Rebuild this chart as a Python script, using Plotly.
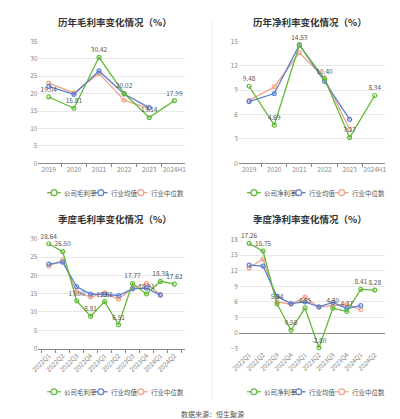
import plotly.graph_objects as go

years = ['2019', '2020', '2021', '2022', '2023', '2024H1']
quarters = ['2022Q1', '2022Q2', '2022Q3', '2022Q4', '2023Q1', '2023Q2',
            '2023Q3', '2023Q4', '2024Q1', '2024Q2']

# annual gross margin
gm_company = [19.04, 15.81, 30.42, 20.02, 13.14, 17.99]
gm_mean = [22.1, 19.8, 26.5, 19.9, 16.0]
gm_median = [23.0, 20.2, 25.8, 18.1, 15.8]

# annual net margin
nm_company = [9.48, 4.69, 14.53, 10.40, 3.17, 8.34]
nm_mean = [7.58, 8.58, 14.56, 10.07, 5.40]
nm_median = [7.74, 9.39, 13.60, 10.50, 4.17]

# quarterly gross margin
qgm_company = [28.64, 26.50, 13.00, 8.81, 12.82, 6.51, 17.77, 14.91, 18.38, 17.62]
qgm_mean = [23.1, 23.6, 16.9, 14.9, 14.8, 14.5, 16.3, 16.5, 14.6]
qgm_median = [22.5, 24.2, 15.4, 14.1, 15.2, 13.5, 16.5, 17.8, 14.8]

# quarterly net margin
qnm_company = [17.26, 15.75, 5.64, 0.56, 4.85, -2.80, 4.80, 4.17, 8.41, 8.28]
qnm_mean = [13.06, 12.90, 7.06, 5.69, 6.00, 5.06, 5.90, 4.75, 5.30]
qnm_median = [12.56, 14.25, 6.00, 5.56, 6.94, 5.00, 5.30, 5.56, 4.50]

GREEN = '#62b83a'
BLUE = '#5a7fd2'
ORANGE = '#f0a287'
FONT = 'Noto Sans CJK SC'
H = 419.0


def py(px):
    return 1 - px / H


fig = go.Figure()


def add_panel(n, x, company, mean, median, comp_name):
    xa = 'x' if n == 1 else f'x{n}'
    ya = 'y' if n == 1 else f'y{n}'
    series = [(comp_name, company, GREEN, True), ('行业均值', mean, BLUE, False),
              ('行业中位数', median, ORANGE, False)]
    for name, vals, col, lab in reversed(series):
        fig.add_trace(go.Scatter(
            x=x[:len(vals)], y=vals, name=name, xaxis=xa, yaxis=ya,
            mode='lines+markers+text' if lab else 'lines+markers',
            line=dict(color=col, width=1.3),
            marker=dict(symbol='circle-open', size=4, color=col, line=dict(width=1.2)),
            text=[f'{v:.2f}' for v in vals] if lab else None,
            textposition='top center',
            textfont=dict(size=6.5, color='#555'),
            showlegend=False, cliponaxis=False,
        ))


add_panel(1, years, gm_company, gm_mean, gm_median, '公司毛利率')
add_panel(2, years, nm_company, nm_mean, nm_median, '公司净利率')
add_panel(3, quarters, qgm_company, qgm_mean, qgm_median, '公司毛利率')
add_panel(4, quarters, qnm_company, qnm_mean, qnm_median, '公司净利率')

xl = [22 / 400, 172 / 400]
xr = [227.5 / 400, 377.5 / 400]
axis_common = dict(showgrid=False, showline=True, linecolor='#888', linewidth=1,
                   tickfont=dict(size=6.5, color='#888', family=FONT),
                   ticks='outside', tickson='boundaries', ticklen=3, tickcolor='#888',
                   fixedrange=True)
yaxis_common = dict(showgrid=True, gridcolor='#e8e8e8', gridwidth=1, zeroline=False,
                    tickfont=dict(size=6.5, color='#888', family=FONT), showline=False,
                    ticks='', fixedrange=True)

fig.update_layout(
    width=400, height=419,
    margin=dict(l=0, r=0, t=0, b=0),
    paper_bgcolor='white', plot_bgcolor='white',
    font=dict(family=FONT),
    xaxis=dict(domain=xl, anchor='y', tickangle=0, **axis_common),
    yaxis=dict(domain=[py(153), py(28)], range=[0, 35], dtick=5, anchor='x', **yaxis_common),
    xaxis2=dict(domain=xr, anchor='y2', tickangle=0, **axis_common),
    yaxis2=dict(domain=[py(153), py(28)], range=[0, 15], dtick=3, anchor='x2', **yaxis_common),
    xaxis3=dict(domain=xl, anchor='y3', tickangle=-45, **axis_common),
    yaxis3=dict(domain=[py(342.7), py(230.3)], range=[0, 30], dtick=5, anchor='x3', **yaxis_common),
    xaxis4=dict(domain=xr, anchor='y4', tickangle=-45,
                **{**axis_common, 'showline': False, 'ticks': ''}),
    yaxis4=dict(domain=[py(343), py(231)], range=[-3, 18], dtick=3, anchor='x4',
                **{**yaxis_common, 'zeroline': True, 'zerolinecolor': '#888', 'zerolinewidth': 1}),
)

# legends: (company label, key centres in px, y in px)
legends = [
    ('公司毛利率', [38, 86, 127], 183),
    ('公司净利率', [243, 289, 333], 183),
    ('公司毛利率', [38, 86, 127], 387),
    ('公司净利率', [243, 289, 333], 387),
]
for comp_name, centres, ly in legends:
    for cx, name, col in zip(centres, [comp_name, '行业均值', '行业中位数'], [GREEN, BLUE, ORANGE]):
        fig.add_shape(type='line', xref='paper', yref='paper',
                      x0=(cx - 7) / 400, x1=(cx + 7) / 400, y0=py(ly), y1=py(ly),
                      line=dict(color=col, width=1.3))
        fig.add_shape(type='circle', xref='paper', yref='paper',
                      x0=(cx - 3) / 400, x1=(cx + 3) / 400, y0=py(ly + 3), y1=py(ly - 3),
                      line=dict(color=col, width=1.2), fillcolor='white')
        fig.add_annotation(text=name, x=(cx + 8.5) / 400, y=py(ly), xref='paper', yref='paper',
                           xanchor='left', yanchor='middle', showarrow=False,
                           font=dict(size=6.5, color='#555', family=FONT))

titles = [('历年毛利率变化情况（%）', 0.25, 8), ('历年净利率变化情况（%）', 0.75, 8),
          ('季度毛利率变化情况（%）', 0.25, 210), ('季度净利率变化情况（%）', 0.75, 210)]
for t, x, y in titles:
    fig.add_annotation(text=f'<b>{t}</b>', x=x, y=py(y), xref='paper', yref='paper',
                       xanchor='center', yanchor='middle', showarrow=False,
                       font=dict(size=9.5, color='#333', family=FONT))

fig.add_annotation(text='数据来源：恒生聚源', x=0.5, y=py(410), xref='paper', yref='paper',
                   xanchor='center', yanchor='middle', showarrow=False,
                   font=dict(size=7, color='#555', family=FONT))

fig.add_shape(type='line', xref='paper', yref='paper', x0=0.5, x1=0.5, y0=py(395), y1=py(5),
              line=dict(color='#f0f0f0', width=1))

fig.write_html('out.html')
